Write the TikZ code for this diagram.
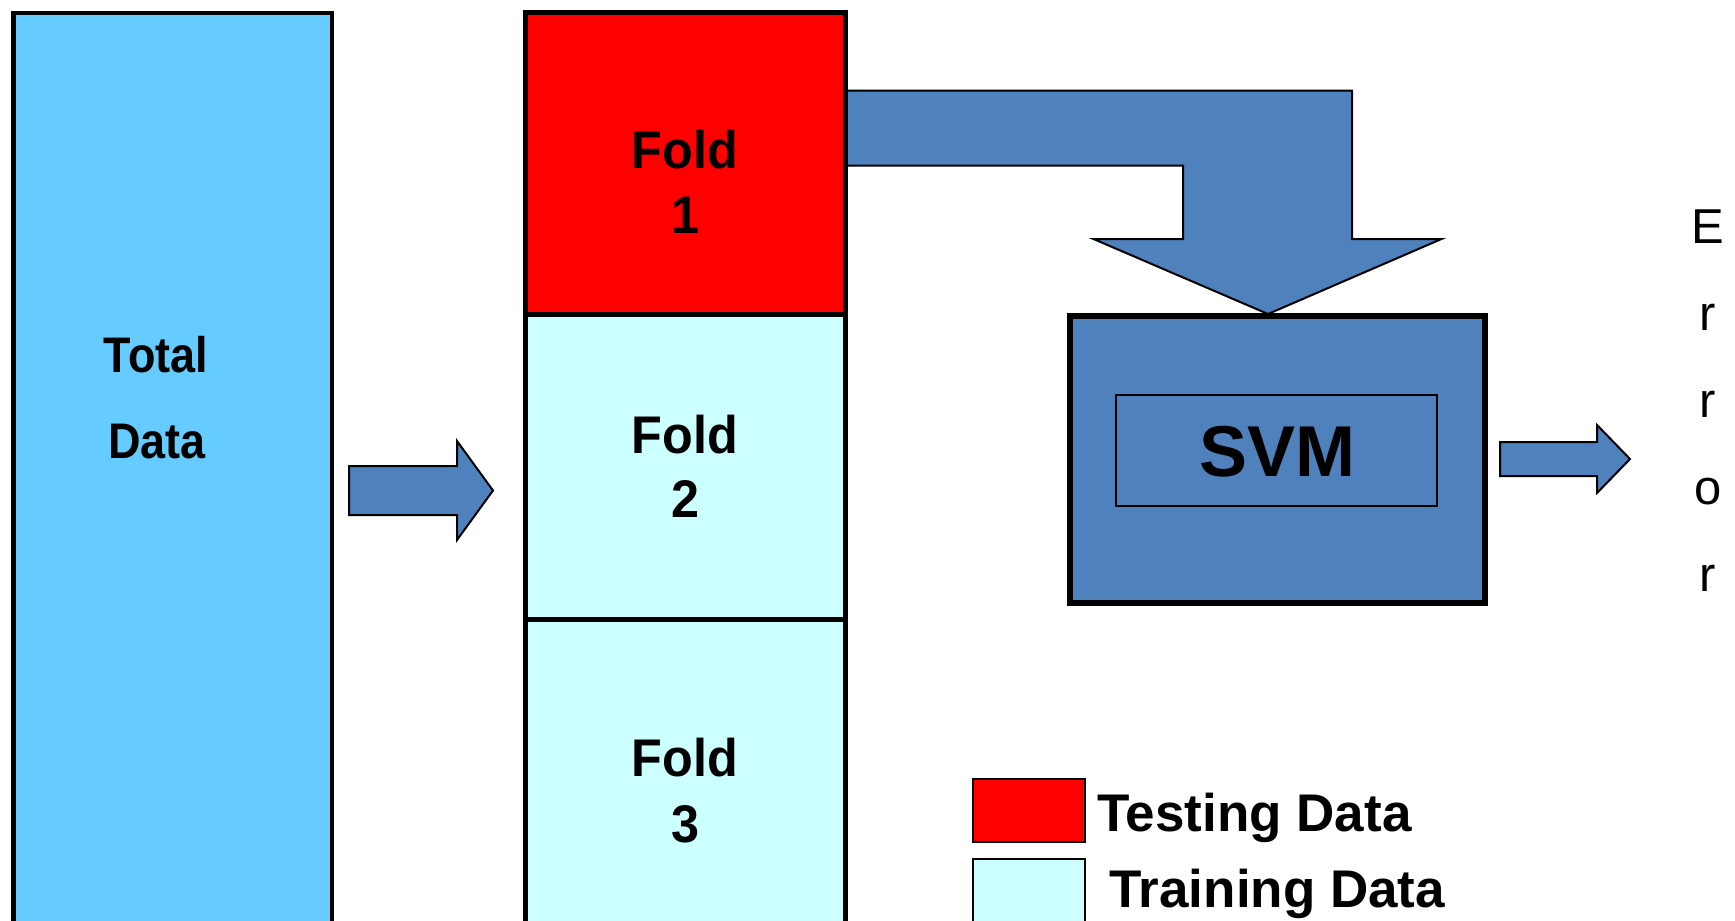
\documentclass[tikz,border=0pt]{standalone}
\usepackage{fontspec}
\usepackage{graphicx}
\setmainfont{Liberation Sans}
\definecolor{totalblue}{HTML}{66CCFF}
\definecolor{trainfill}{HTML}{CCFFFF}
\definecolor{testred}{HTML}{FF0000}
\definecolor{arrowblue}{HTML}{4F81BD}
\tikzset{
  databox/.style={fill=#1},
  boxline/.style={draw=black, line width=#1, line join=miter},
  blockarrow/.style={fill=arrowblue, draw=black, line width=1pt, line join=miter},
  boldlbl/.style={font=\bfseries\fontsize{26.5pt}{30pt}\selectfont, anchor=base, inner sep=0pt},
  totallbl/.style={font=\bfseries\fontsize{25pt}{30pt}\selectfont, anchor=base, inner sep=0pt},
  svmlbl/.style={font=\bfseries\fontsize{36pt}{40pt}\selectfont, anchor=base, inner sep=0pt},
  legendlbl/.style={font=\bfseries\fontsize{26.5pt}{30pt}\selectfont, anchor=base west, inner sep=0pt},
  errlbl/.style={font=\fontsize{24.5pt}{28pt}\selectfont, anchor=base, inner sep=0pt}
}
\begin{document}
\begin{tikzpicture}[x=0.5pt, y=-0.5pt]
\useasboundingbox (0,0) rectangle (1735,921);
\clip (0,0) rectangle (1735,921);
\fill[white] (0,0) rectangle (1735,921);

% whole data set
\draw[databox=totalblue, boxline=2.4pt] (13.5,13) rectangle (332,945);
\node[totallbl] (total) at (156,372) {\scalebox{0.9}[1]{Total}};
\node[totallbl] (data) at (157,458) {\scalebox{0.9}[1]{Data}};

% arrow into the folds
\draw[blockarrow] (349,466) -- (457,466) -- (457,441) -- (493,490.5)
  -- (457,540) -- (457,515) -- (349,515) -- cycle;

% bent arrow from the test fold down to the classifier
\fill[arrowblue] (840,90.5) -- (1352,90.5) -- (1352,239) -- (1441.5,239)
  -- (1268,314) -- (1093.5,239) -- (1183,239) -- (1183,165.5) -- (840,165.5) -- cycle;
\draw[boxline=1pt] (845,90.5) -- (1352,90.5) -- (1352,239) -- (1441.5,239)
  -- (1268,314) -- (1093.5,239) -- (1183,239) -- (1183,165.5) -- (845,165.5);

% the three folds
\fill[testred] (525,12) rectangle (845,314.5);
\fill[trainfill] (525,314.5) rectangle (845,945);
\draw[boxline=2.5pt] (525,12) rectangle (845,314.5);
\draw[boxline=2.5pt] (525,314.5) rectangle (845,619);
\draw[boxline=2.5pt] (525,619) rectangle (845,945);
\node[boldlbl] (f1a) at (685,168) {\scalebox{0.95}[1]{Fold}};
\node[boldlbl] (f1b) at (685,233) {\scalebox{0.95}[1]{1}};
\node[boldlbl] (f2a) at (685,453) {\scalebox{0.95}[1]{Fold}};
\node[boldlbl] (f2b) at (685,517) {\scalebox{0.95}[1]{2}};
\node[boldlbl] (f3a) at (685,776) {\scalebox{0.95}[1]{Fold}};
\node[boldlbl] (f3b) at (685,842) {\scalebox{0.95}[1]{3}};

% classifier
\draw[databox=arrowblue, boxline=3pt] (1069.5,315.5) rectangle (1485,603);
\draw[boxline=1pt] (1116,395) rectangle (1437,506);
\node[svmlbl] (svm) at (1277,476) {SVM};

% output arrow
\draw[blockarrow] (1500,442) -- (1597,442) -- (1597,425) -- (1630,459)
  -- (1597,493) -- (1597,476) -- (1500,476) -- cycle;

% error, written downwards
\node[errlbl] (e1) at (1708,243) {E};
\node[errlbl] (e2) at (1708,330) {r};
\node[errlbl] (e3) at (1708,417) {r};
\node[errlbl] (e4) at (1708,504) {o};
\node[errlbl] (e5) at (1708,591) {r};

% legend
\draw[databox=testred, boxline=1.25pt] (973,779) rectangle (1085,842);
\draw[databox=trainfill, boxline=1.25pt] (973,859) rectangle (1085,945);
\node[legendlbl] (testing) at (1097,831) {Testing Data};
\node[legendlbl] (training) at (1109,907) {Training Data};
\end{tikzpicture}
\end{document}
